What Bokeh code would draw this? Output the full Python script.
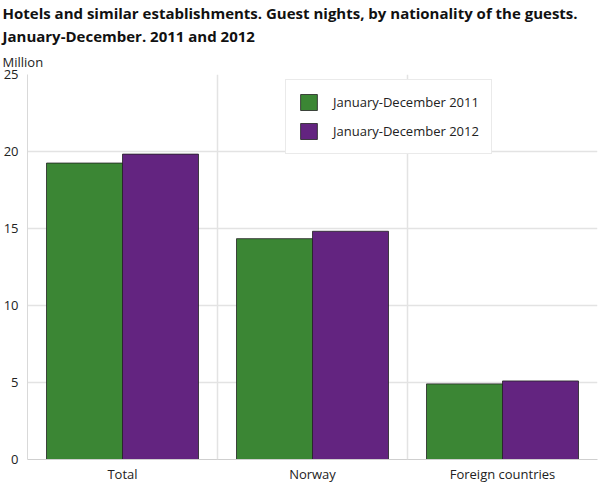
from bokeh.embed import file_html
from bokeh.models import ColumnDataSource, FactorRange, Legend, LegendItem, Range1d, Span, Title, FixedTicker
from bokeh.plotting import figure
from bokeh.resources import INLINE
from bokeh.transform import dodge

categories = ['Total', 'Norway', 'Foreign countries']
nights_2011 = [19.25, 14.34, 4.91]
nights_2012 = [19.83, 14.82, 5.10]
series_labels = ['January-December 2011', 'January-December 2012']
y_ticks = [0, 5, 10, 15, 20, 25]

FONT = 'Open Sans'
GREEN = '#3b8634'
PURPLE = '#632480'

source = ColumnDataSource(data=dict(cat=categories, y2011=nights_2011, y2012=nights_2012))

p = figure(x_range=FactorRange(*categories, range_padding=0), y_range=Range1d(0, 25),
           frame_width=570, frame_height=385, output_backend="svg", toolbar_location=None,
           min_border_left=0, min_border_right=2, min_border_top=0, min_border_bottom=0)
p.outline_line_color = None
p.background_fill_color = 'white'

r1 = p.vbar(x=dodge('cat', -0.2, range=p.x_range), top='y2011', width=0.4, source=source,
            fill_color=GREEN, line_color='#222222', line_width=0.8)
r2 = p.vbar(x=dodge('cat', 0.2, range=p.x_range), top='y2012', width=0.4, source=source,
            fill_color=PURPLE, line_color='#222222', line_width=0.8)

# y axis
p.yaxis.ticker = FixedTicker(ticks=y_ticks)
p.yaxis.major_tick_out = 0
p.yaxis.major_tick_in = 0
p.yaxis.minor_tick_out = 0
p.yaxis.minor_tick_in = 0
p.yaxis.axis_line_color = '#d9d9d9'
p.yaxis.major_label_text_font = FONT
p.yaxis.major_label_text_font_size = '13px'
p.yaxis.major_label_text_color = '#222222'
p.yaxis.major_label_standoff = 9
p.ygrid.grid_line_color = '#e3e3e3'
p.ygrid.grid_line_width = 1.5

# x axis
p.xaxis.major_tick_out = 0
p.xaxis.major_tick_in = 0
p.xaxis.axis_line_color = '#cfcfcf'
p.xaxis.major_label_text_font = FONT
p.xaxis.major_label_text_font_size = '13px'
p.xaxis.major_label_text_color = '#222222'
p.xaxis.major_label_standoff = 5
p.xgrid.grid_line_color = None

# separators between the groups
for i in range(1, len(categories)):
    p.add_layout(Span(location=i, dimension='height', line_color='#e3e3e3', line_width=1.5))

legend = Legend(items=[LegendItem(label=series_labels[0], renderers=[r1]),
                       LegendItem(label=series_labels[1], renderers=[r2])],
                location=(258, 305), orientation='vertical')
legend.label_text_font = FONT
legend.label_text_font_size = '13px'
legend.label_text_color = '#222222'
legend.glyph_width = 21
legend.glyph_height = 20
legend.label_standoff = 14
legend.spacing = 9
legend.padding = 12
legend.margin = 0
legend.border_line_color = '#d6d6d6'
legend.background_fill_alpha = 1
p.add_layout(legend, 'center')

# titles, innermost first
p.add_layout(Title(text='Million', text_font=FONT, text_font_size='13px', text_font_style='normal',
                   text_color='#222222', align='left', offset=-25, standoff=7), 'above')
p.add_layout(Title(text='January-December. 2011 and 2012', text_font=FONT, text_font_size='15px',
                   text_font_style='bold', text_color='#111111', align='left', offset=-25, standoff=3), 'above')
p.add_layout(Title(text='Hotels and similar establishments. Guest nights, by nationality of the guests.',
                   text_font=FONT, text_font_size='15px', text_font_style='bold', text_color='#111111',
                   align='left', offset=-25, standoff=0), 'above')

open("out.html", "w").write(file_html(p, INLINE))
